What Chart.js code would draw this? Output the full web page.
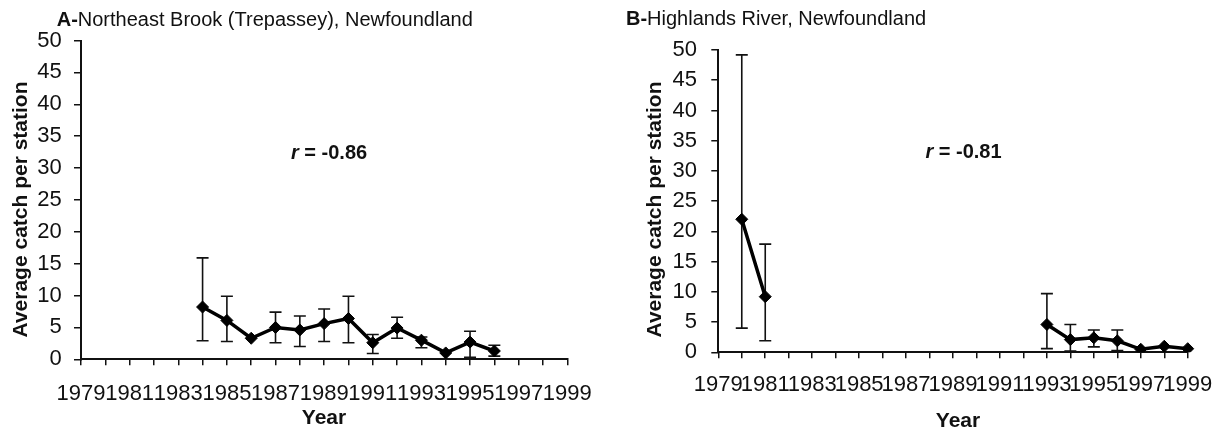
<!DOCTYPE html>
<html>
<head>
<meta charset="utf-8">
<script src="https://cdn.jsdelivr.net/npm/chart.js@4.4.0/dist/chart.umd.min.js"></script>
<style>
  body { margin: 0; background: #fff; }
  #wrap { position: relative; width: 1226px; height: 437px; }
  canvas { position: absolute; top: 0; }
</style>
</head>
<body>
<div id="wrap">
  <canvas id="chart-a" width="613" height="437" style="left:0"></canvas>
  <canvas id="chart-b" width="613" height="437" style="left:613px"></canvas>
</div>
<script>
const FONT = '"Liberation Sans", Arial, sans-serif';
const INK = '#111';

// Shared year axis
const years = ['1979', '1980', '1981', '1982', '1983', '1984', '1985', '1986', '1987', '1988', '1989',
  '1990', '1991', '1992', '1993', '1994', '1995', '1996', '1997', '1998', '1999'];

// A - Northeast Brook (Trepassey)
const yearsA = ['1984', '1985', '1986', '1987', '1988', '1989', '1990', '1991', '1992', '1993', '1994', '1995', '1996'];
const meanA = [8.2, 6.1, 3.3, 5.0, 4.6, 5.6, 6.4, 2.6, 4.9, 3.0, 1.0, 2.7, 1.3];
const upperA = [15.9, 9.9, null, 7.4, 6.8, 7.9, 9.9, 3.9, 6.6, 3.5, null, 4.4, 2.2];
const lowerA = [2.9, 2.8, null, 2.6, 2.0, 2.8, 2.6, 0.9, 3.3, 1.8, null, 0.3, 0.5];

// B - Highlands River
const yearsB = ['1980', '1981', '1993', '1994', '1995', '1996', '1997', '1998', '1999'];
const meanB = [22.0, 9.2, 4.6, 2.1, 2.4, 1.9, 0.5, 1.0, 0.6];
const upperB = [49.2, 17.9, 9.7, 4.6, 3.7, 3.7, null, null, null];
const lowerB = [4.0, 1.9, 0.6, 0.2, 0.9, 0.3, null, null, null];

// put a series onto the full year axis, leaving gaps where there was no survey
function onAxis(ys, vals) {
  return years.map(y => {
    const i = ys.indexOf(y);
    return i < 0 ? null : vals[i];
  });
}

// vertical error bars with caps
const errorBars = {
  id: 'errorBars',
  beforeDatasetsDraw(chart) {
    const cfg = chart.options.plugins.errorBars;
    const xs = chart.scales.x, ys = chart.scales.y, ctx = chart.ctx;
    ctx.save();
    ctx.strokeStyle = INK;
    ctx.lineWidth = 1.6;
    cfg.years.forEach((yr, i) => {
      if (cfg.upper[i] == null) return;
      const x = xs.getPixelForValue(years.indexOf(yr));
      const top = ys.getPixelForValue(cfg.upper[i]);
      const bot = ys.getPixelForValue(cfg.lower[i]);
      ctx.beginPath();
      ctx.moveTo(x, top); ctx.lineTo(x, bot);
      ctx.moveTo(x - 6, top); ctx.lineTo(x + 6, top);
      ctx.moveTo(x - 6, bot); ctx.lineTo(x + 6, bot);
      ctx.stroke();
    });
    ctx.restore();
  }
};

// panel heading, r value and axis titles
const panelText = {
  id: 'panelText',
  afterDraw(chart) {
    const t = chart.options.plugins.panelText;
    const ctx = chart.ctx;
    ctx.save();
    ctx.fillStyle = INK;
    ctx.textBaseline = 'alphabetic';

    let x = t.titleX;
    ctx.font = 'bold 20px ' + FONT;
    ctx.fillText(t.letter, x, t.titleY);
    x += ctx.measureText(t.letter).width;
    ctx.font = '20px ' + FONT;
    ctx.fillText(t.title, x, t.titleY);

    x = t.rX;
    ctx.font = 'italic bold 20px ' + FONT;
    ctx.fillText('r', x, t.rY);
    x += ctx.measureText('r').width;
    ctx.font = 'bold 20px ' + FONT;
    ctx.fillText(' = ' + t.r, x, t.rY);

    ctx.font = 'bold 21px ' + FONT;
    ctx.textAlign = 'center';
    ctx.textBaseline = 'middle';
    ctx.fillText('Year', t.xTitleX, t.xTitleY);
    ctx.translate(t.yTitleX, t.yTitleY);
    ctx.rotate(-Math.PI / 2);
    ctx.fillText('Average catch per station', 0, 0);
    ctx.restore();
  }
};

function makeChart(id, ys, mean, upper, lower, box, text) {
  return new Chart(document.getElementById(id), {
    type: 'line',
    data: {
      labels: years,
      datasets: [{
        data: onAxis(ys, mean),
        borderColor: '#000',
        borderWidth: 3.5,
        tension: 0,
        spanGaps: false,
        pointStyle: 'rectRot',
        pointRadius: 6,
        pointBackgroundColor: '#000',
        pointBorderColor: '#000',
        pointBorderWidth: 1
      }]
    },
    options: {
      responsive: false,
      animation: false,
      layout: { padding: { left: 0, right: box.right, top: box.top, bottom: box.bottom } },
      plugins: {
        legend: { display: false },
        tooltip: { enabled: false },
        errorBars: { years: ys, upper, lower },
        panelText: text
      },
      scales: {
        x: {
          type: 'category',
          offset: false,
          afterFit: s => { s.height = 60; },
          grid: { drawOnChartArea: false, tickLength: 6, color: INK, lineWidth: 1.5 },
          border: { color: INK, width: 2 },
          ticks: {
            autoSkip: false,
            maxRotation: 0,
            minRotation: 0,
            padding: box.xPad,
            color: INK,
            font: { family: FONT, size: 22 },
            callback: (v, i) => (i % 2 === 0 ? years[i] : '')
          }
        },
        y: {
          min: 0,
          max: 50,
          afterFit: s => { s.width = box.left; },
          grid: { drawOnChartArea: false, tickLength: 7, color: INK, lineWidth: 1.5 },
          border: { color: INK, width: 2 },
          ticks: {
            stepSize: 5,
            padding: box.yPad,
            color: INK,
            font: { family: FONT, size: 22 }
          }
        }
      }
    },
    plugins: [errorBars, panelText]
  });
}

makeChart('chart-a', yearsA, meanA, upperA, lowerA,
  { left: 81, right: 45.7, top: 40.5, bottom: 17.7, xPad: 15.3, yPad: 12.3 },
  { letter: 'A-', title: 'Northeast Brook (Trepassey), Newfoundland', titleX: 56.7, titleY: 26,
    r: '-0.86', rX: 291, rY: 159.3, xTitleX: 324, xTitleY: 418, yTitleX: 21.5, yTitleY: 209.5 });

makeChart('chart-b', yearsB, meanB, upperB, lowerB,
  { left: 105.3, right: 27.5, top: 50, bottom: 24.7, xPad: 13.8, yPad: 14.3 },
  { letter: 'B-', title: 'Highlands River, Newfoundland', titleX: 13, titleY: 25,
    r: '-0.81', rX: 312.4, rY: 157.5, xTitleX: 345, xTitleY: 421, yTitleX: 42, yTitleY: 209.5 });
</script>
</body>
</html>
